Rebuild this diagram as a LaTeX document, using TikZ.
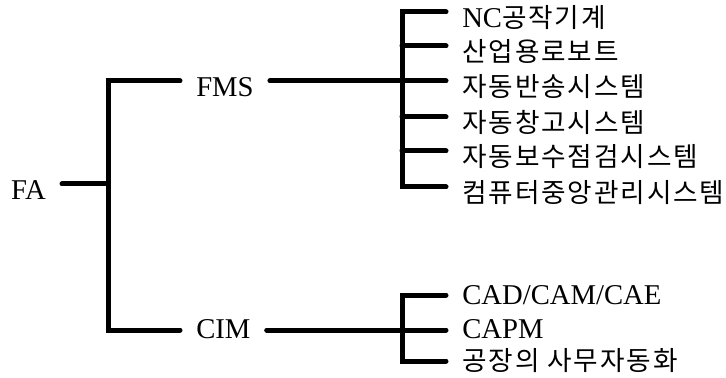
\documentclass[tikz,border=0pt]{standalone}
\usepackage{fontspec}
\setmainfont{Liberation Serif}
\newfontfamily\hangul[LetterSpace=7]{Noto Sans CJK KR}
\newcommand{\ko}[1]{{\hangul\fontsize{20pt}{24pt}\selectfont #1}}
\begin{document}
\begin{tikzpicture}[x=0.75pt, y=-0.75pt,
    item/.style={inner xsep=12pt, inner ysep=0pt, text depth=3pt, font=\fontsize{21.5pt}{24pt}\selectfont},
    upper/.style={item, text height=26pt},
    lower/.style={item, text height=16.5pt},
    branch/.style={line width=3.75pt, line cap=round}]
    \useasboundingbox (0,0) rectangle (726,378);

    \node[upper, anchor=east] (fa) at (62,184) {FA};
    \node[upper, anchor=west] (fms) at (180,81) {FMS};
    \node[lower, anchor=west] (cim) at (180,330) {CIM};

    \node[upper, anchor=west] (nc) at (446,12) {NC\ko{공작기계}};
    \node[upper, anchor=west] (robot) at (446,46) {\ko{산업용로보트}};
    \node[upper, anchor=west] (transport) at (446,81) {\ko{자동반송시스템}};
    \node[upper, anchor=west] (warehouse) at (446,117) {\ko{자동창고시스템}};
    \node[upper, anchor=west] (maint) at (446,151) {\ko{자동보수점검시스템}};
    \node[upper, anchor=west] (central) at (446,187) {\ko{컴퓨터중앙관리시스템}};

    \node[lower, anchor=west] (cad) at (446,295) {CAD/CAM/CAE};
    \node[lower, anchor=west] (capm) at (446,330) {CAPM};
    \node[lower, anchor=west] (office) at (446,361) {\ko{공장의 사무자동화}};

    \coordinate (root) at (108,184);
    \coordinate (fmsbus) at (402,81);
    \coordinate (cimbus) at (402,330);

    \draw[branch] (fa.east) -- (root);
    \draw[branch] (fms.west) -| (root) |- (cim.west);

    \draw[branch] (fms.east) -- (fmsbus);
    \draw[branch] (nc.west) -| (fmsbus) |- (central.west);
    \foreach \n in {robot,transport,warehouse,maint}
        \draw[branch] (fmsbus |- \n.west) -- (\n.west);

    \draw[branch] (cim.east) -- (cimbus);
    \draw[branch] (cad.west) -| (cimbus) |- (office.west);
    \draw[branch] (cimbus) -- (capm.west);
\end{tikzpicture}
\end{document}
